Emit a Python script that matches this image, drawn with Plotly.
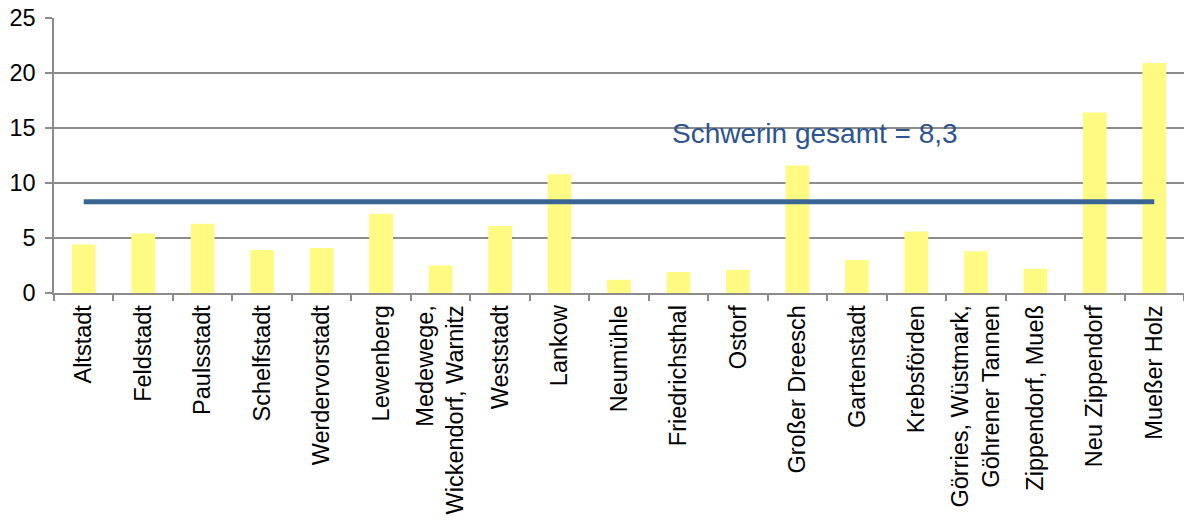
import plotly.graph_objects as go

categories = [
    "Altstadt", "Feldstadt", "Paulsstadt", "Schelfstadt", "Werdervorstadt",
    "Lewenberg", "Medewege,<br>Wickendorf, Warnitz", "Weststadt", "Lankow",
    "Neumühle", "Friedrichsthal", "Ostorf", "Großer Dreesch", "Gartenstadt",
    "Krebsförden", "Görries, Wüstmark,<br>Göhrener Tannen", "Zippendorf, Mueß",
    "Neu Zippendorf", "Mueßer Holz",
]
values = [4.4, 5.4, 6.3, 3.9, 4.1, 7.2, 2.5, 6.1, 10.8,
          1.2, 1.9, 2.1, 11.6, 3.0, 5.6, 3.8, 2.2, 16.4, 20.9]
city_total = 8.3
city_label = "Schwerin gesamt = 8,3"
y_ticks = [0, 5, 10, 15, 20, 25]

FONT = "Liberation Sans, Arial, sans-serif"
GRID = "#8c8c8c"

fig = go.Figure()
fig.add_trace(go.Bar(
    x=categories, y=values,
    marker=dict(color="#FFFB82", line=dict(width=0)),
    showlegend=False, hoverinfo="x+y",
))
fig.add_trace(go.Scatter(
    x=categories, y=[city_total] * len(categories),
    mode="lines", line=dict(color="#3A6493", width=5),
    showlegend=False, hoverinfo="y",
))
fig.add_annotation(
    x=12.3, y=14.5, xref="x", yref="y", text=city_label, showarrow=False,
    font=dict(family=FONT, size=28, color="#2C5491"),
)

fig.update_layout(
    width=1184, height=525,
    margin=dict(l=54, r=0, t=18, b=232, pad=0),
    paper_bgcolor="white", plot_bgcolor="white",
    bargap=0.6,
    font=dict(family=FONT, size=23.5, color="black"),
)
fig.update_xaxes(
    type="category", range=[-0.5, len(categories) - 0.5],
    tickangle=-90, tickson="boundaries", ticks="outside", ticklen=6,
    tickcolor=GRID, tickwidth=1.5,
    showline=True, linecolor=GRID, linewidth=1.5,
    showgrid=False, ticklabelstandoff=1, automargin=False,
    ticklabeloverflow="allow",
    tickfont=dict(family=FONT, size=23.5, color="black"),
)
fig.update_yaxes(
    range=[0, 25], tickvals=y_ticks, ticks="outside", ticklen=7,
    tickcolor=GRID, tickwidth=1.5,
    showline=True, linecolor=GRID, linewidth=1.5,
    showgrid=True, gridcolor=GRID, gridwidth=1.5,
    zeroline=False, ticklabelstandoff=5, automargin=False,
    ticklabeloverflow="allow",
    tickfont=dict(family=FONT, size=23.5, color="black"),
)

fig.write_html(
    "out.html",
    config={"displayModeBar": False},
    post_script="document.body.style.margin='0';",
)
